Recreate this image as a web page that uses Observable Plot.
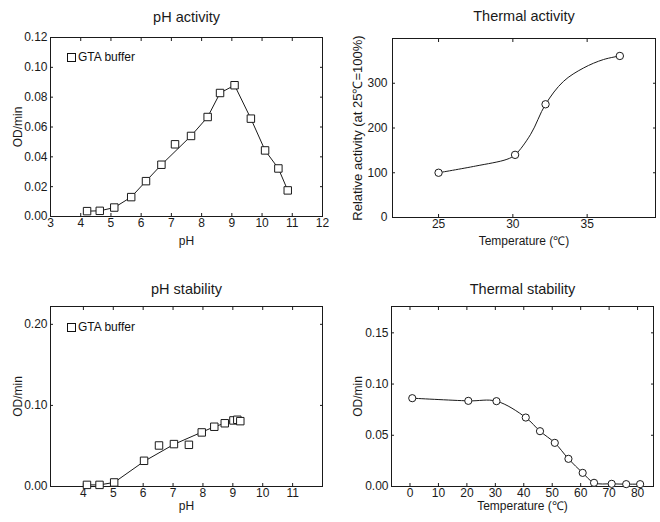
<!DOCTYPE html>
<html><head><meta charset="utf-8">
<script src="https://cdn.jsdelivr.net/npm/d3@7"></script>
<script src="https://cdn.jsdelivr.net/npm/@observablehq/plot@0.6"></script>
<style>
body{margin:0;background:#fff;font-family:"Liberation Sans",Arial,Helvetica,sans-serif;}
#wrap{position:relative;width:660px;height:522px;overflow:hidden;}
.panel{position:absolute;}
.legend{position:absolute;font-size:12px;color:#111;display:flex;align-items:center;line-height:1;}
.legend .sq{display:inline-block;width:7px;height:7px;border:1px solid #111;margin-right:2px;background:#fff;}
</style></head><body><div id="wrap"></div>
<script>
// ---- pH activity ----
const actPH = [4.21, 4.63, 5.11, 5.67, 6.16, 6.67, 7.12, 7.65, 8.20, 8.61, 9.09, 9.63, 10.10, 10.54, 10.85];
const actOD = [0.0036, 0.0038, 0.0060, 0.0130, 0.0237, 0.0347, 0.0484, 0.0540, 0.0667, 0.0828, 0.0880, 0.0656, 0.0443, 0.0322, 0.0175];
const actFitPH = [4.21, 4.63, 5.11, 5.67, 6.16, 6.67, 7.65, 8.20, 8.61, 9.09, 9.63, 10.10, 10.54, 10.85];
const actFitOD = [0.0036, 0.0038, 0.0060, 0.0130, 0.0237, 0.0347, 0.0540, 0.0667, 0.0828, 0.0880, 0.0656, 0.0443, 0.0322, 0.0175];
const actXTicks = [3, 4, 5, 6, 7, 8, 9, 10, 11, 12];
const actYTicks = [0, 0.02, 0.04, 0.06, 0.08, 0.10, 0.12];

// ---- Thermal activity ----
const thTemp = [25.0, 30.15, 32.2, 37.2];
const thRel = [100, 140, 253, 361];
const thFitTemp = [25.0, 27.5, 29.6, 30.15, 31.2, 32.2, 33.4, 34.75, 36.1, 37.2];
const thFitRel = [100, 115, 130, 140, 186, 253, 304, 334, 353, 361];
const thXTicks = [25, 30, 35];
const thYTicks = [0, 100, 200, 300];

// ---- pH stability ----
const stPH = [4.12, 4.54, 5.03, 6.03, 6.53, 7.03, 7.53, 7.96, 8.38, 8.73, 9.02, 9.15, 9.25];
const stOD = [0.002, 0.002, 0.005, 0.0317, 0.0506, 0.0523, 0.0514, 0.0667, 0.0737, 0.0780, 0.0815, 0.0823, 0.0806];
const stFitPH = [4.12, 4.54, 5.03, 6.03, 7.03, 7.96, 8.38, 8.73, 9.02, 9.25];
const stFitOD = [0.002, 0.002, 0.005, 0.031, 0.052, 0.067, 0.0737, 0.078, 0.081, 0.081];
const stXTicks = [4, 5, 6, 7, 8, 9, 10, 11];
const stYTicks = [0, 0.10, 0.20];

// ---- Thermal stability ----
const tsTemp = [0.8, 20.5, 30.4, 40.7, 45.7, 50.9, 55.7, 60.7, 64.7, 70.9, 76.0, 80.9];
const tsOD = [0.0862, 0.0836, 0.0833, 0.0673, 0.0540, 0.0426, 0.0270, 0.0133, 0.0036, 0.0026, 0.0023, 0.0023];
const tsXTicks = [0, 10, 20, 30, 40, 50, 60, 70, 80];
const tsYTicks = [0, 0.05, 0.10, 0.15];

const wrap = document.getElementById("wrap");
const INK = "#1a1a1a";

function panel(o) {
  const pts = o.xs.map((x, i) => ({x, y: o.ys[i]}));
  const fit = o.fx.map((x, i) => ({x, y: o.fy[i]}));
  const plot = Plot.plot({
    width: 330, height: 261,
    marginLeft: o.m[0], marginRight: o.m[1], marginTop: o.m[2], marginBottom: o.m[3],
    style: {fontFamily: '"Liberation Sans", Arial, sans-serif', fontSize: "12px", color: INK, background: "transparent"},
    x: {domain: o.xDomain},
    y: {domain: o.yDomain},
    marks: [
      Plot.axisX(o.xTicks, {anchor: "bottom", tickSize: -3, tickPadding: 5, label: null, stroke: INK}),
      Plot.axisX(o.xTicks, {anchor: "top", tickSize: -3, tickFormat: () => "", label: null, stroke: INK}),
      Plot.axisY(o.yTicks, {anchor: "left", tickSize: -3, tickPadding: o.yPad, label: null, tickFormat: o.yFormat, stroke: INK}),
      Plot.axisY(o.yTicks, {anchor: "right", tickSize: -3, tickFormat: () => "", label: null, stroke: INK}),
      Plot.frame({stroke: INK, strokeWidth: 1}),
      Plot.line(fit, {x: "x", y: "y", curve: o.curve, stroke: INK, strokeWidth: 1}),
      Plot.dot(pts, {x: "x", y: "y", symbol: o.symbol, r: o.r, fill: "white", stroke: INK, strokeWidth: 1}),
      Plot.text([o.title], {frameAnchor: "top", lineAnchor: "middle", textAnchor: "middle", dy: o.titleDy, fontSize: 14.5, fill: INK}),
      Plot.text([o.xLabel], {frameAnchor: "bottom", lineAnchor: "middle", textAnchor: "middle", dy: o.xLabelDy, fontSize: 12, fill: INK}),
      Plot.text([o.yLabel], {frameAnchor: "left", lineAnchor: "middle", textAnchor: "middle", dx: o.yLabelDx, rotate: -90, fontSize: o.yLabelSize, fill: INK})
    ]
  });
  plot.classList.add("panel");
  plot.style.left = o.left + "px";
  plot.style.top = o.top + "px";
  wrap.appendChild(plot);
}

panel({left: 0, top: 0, m: [50, 8, 37, 45], xDomain: [3, 12], yDomain: [0, 0.12],
  xTicks: actXTicks, yTicks: actYTicks, yFormat: d3.format(".2f"), yPad: 6,
  xs: actPH, ys: actOD, fx: actFitPH, fy: actFitOD, curve: "linear", symbol: "square", r: 4.2,
  title: "pH activity", titleDy: -20, xLabel: "pH", xLabelDy: 25, yLabel: "OD/min", yLabelDx: -32, yLabelSize: 12});

panel({left: 330, top: 0, m: [62, 5, 38, 44], xDomain: [21.9, 39.6], yDomain: [0, 400],
  xTicks: thXTicks, yTicks: thYTicks, yFormat: d3.format("d"), yPad: 8,
  xs: thTemp, ys: thRel, fx: thFitTemp, fy: thFitRel, curve: "catmull-rom", symbol: "circle", r: 3.7,
  title: "Thermal activity", titleDy: -22, xLabel: "Temperature (℃)", xLabelDy: 24, yLabel: "Relative activity (at 25℃=100%)", yLabelDx: -35, yLabelSize: 13});

panel({left: 0, top: 261, m: [50, 8, 45, 36], xDomain: [2.9, 12], yDomain: [0, 0.222],
  xTicks: stXTicks, yTicks: stYTicks, yFormat: d3.format(".2f"), yPad: 6,
  xs: stPH, ys: stOD, fx: stFitPH, fy: stFitOD, curve: "linear", symbol: "square", r: 4.2,
  title: "pH stability", titleDy: -17, xLabel: "pH", xLabelDy: 20, yLabel: "OD/min", yLabelDx: -32, yLabelSize: 12});

panel({left: 330, top: 261, m: [61, 7, 45, 36], xDomain: [-6.5, 85.6], yDomain: [0, 0.1757],
  xTicks: tsXTicks, yTicks: tsYTicks, yFormat: d3.format(".2f"), yPad: 6,
  xs: tsTemp, ys: tsOD, fx: tsTemp, fy: tsOD, curve: "catmull-rom", symbol: "circle", r: 3.6,
  title: "Thermal stability", titleDy: -17, xLabel: "Temperature (℃)", xLabelDy: 20, yLabel: "OD/min", yLabelDx: -33, yLabelSize: 12});

// legends
for (const [l, t] of [[67, 51], [67, 321]]) {
  const d = document.createElement("div");
  d.className = "legend";
  d.style.left = l + "px"; d.style.top = t + "px";
  d.innerHTML = '<span class="sq"></span><span>GTA buffer</span>';
  wrap.appendChild(d);
}
</script></body></html>
